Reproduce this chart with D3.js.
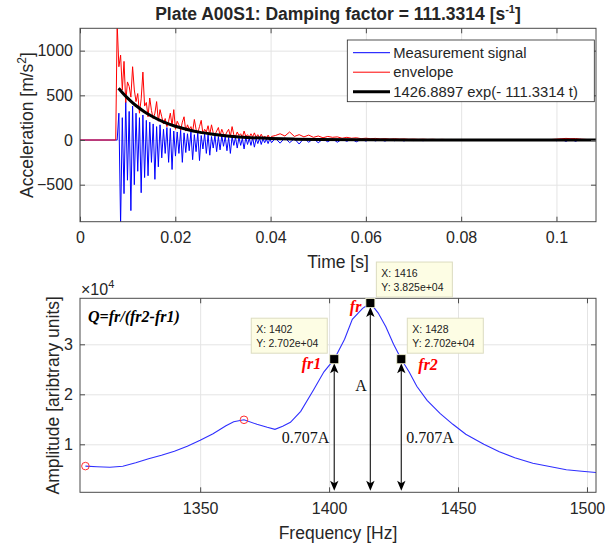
<!DOCTYPE html>
<html>
<head>
<meta charset="utf-8">
<script src="https://cdn.jsdelivr.net/npm/d3@7"></script>
<style>
  body { margin: 0; background: #fff; }
  svg text { font-family: "Liberation Sans", Arial, sans-serif; fill: #262626; }
</style>
</head>
<body>
<div id="chart"></div>
<script>
// ---- time signal (top plot) ----
const timeDomain = [0, 0.1083];
const accDomain = [-914, 1250];
const timeTicks = [0, 0.02, 0.04, 0.06, 0.08, 0.1];
const accTicks = [-500, 0, 500, 1000];

// dense part of the record: first sample time and sampling step [s]
const headStart = 0.0078, headStep = 0.00036;
const blueHead = [0, 300, -950, 250, -600, 430, -450, 320, -790, 380,
  -500, 300, -350, 250, -590, 280, -420, 220, -400, 200,
  -250, 180, -440, 150, -300, 170, -200, 120, -150, 140,
  -250, 130, -330, 100, -180, 90, -150, 110, -250, 80,
  -140, 70, -120, 90, -220, 60, -130, 80, -230, 50,
  -100, 70, -150, 60, -170, 40, -90, 50, -130, 40,
  -110, 50, -70, 40, -120, 30, -150, 40, -60, 30,
  -90, 30, -60, 20, -100, 30, -50, 20, -60, 25,
  -80, 15, -40, 20, -50, 15, -30, 10, -40, 15,
  -30];
const redHead = [1300, 820, 950, 560, 880, 420, 650, 600, 480, 820,
  560, 430, 520, 300, 460, 760, 380, 420, 260, 470,
  330, 240, 300, 430, 210, 340, 260, 180, 240, 150,
  210, 300, 160, 340, 120, 210, 170, 110, 200, 260,
  100, 170, 120, 150, 90, 230, 120, 80, 150, 220,
  70, 120, 90, 160, 60, 170, 80, 60, 100, 140,
  50, 120, 70, 50, 90, 120, 40, 150, 60, 40,
  90, 50, 70, 30, 100, 40, 60, 30, 70, 35,
  80, 30, 60, 25, 65, 25, 45, 20, 55, 20,
  40];
// decayed tail, coarser step
const tailStart = 0.041, tailStep = 0.001;
const blueTail = [20, -35, 25, -30, 15, -45, 20, -25, 15, -30,
  10, -20, 15, -25, 10, -15, 10, -20, 8, -12,
  8, -10, 6, -12, 6, -8, 5, -10, 5, -6,
  4, -8, 4, -5, 3, -6, 3, -4, 3, -5,
  2, -3, 2, -4, 2, -3, 2, -2, 2, -3,
  1, -2, 1, -2, 1, -2, 2, -3, 4, -8,
  10, -15, 12, -14, 8, -6, 3, -2];
const redTail = [50, 70, 45, 90, 40, 60, 35, 55, 30, 45,
  25, 40, 30, 35, 20, 30, 20, 25, 15, 20,
  15, 18, 12, 15, 10, 14, 10, 12, 8, 10,
  7, 9, 6, 8, 5, 7, 5, 6, 4, 6,
  4, 5, 3, 5, 3, 4, 3, 4, 3, 4,
  2, 3, 2, 3, 2, 3, 3, 4, 6, 10,
  14, 18, 15, 16, 10, 7, 4, 3];

// exponential fit
const fitT = [0.0081, 0.009, 0.01, 0.011, 0.012, 0.0135, 0.015, 0.0175, 0.02, 0.0225, 0.025,
  0.0275, 0.03, 0.035, 0.04, 0.045, 0.05, 0.06, 0.07, 0.08, 0.09, 0.1, 0.1083];
const fitA = [579, 524, 469, 419, 375, 317, 269, 203, 154, 117, 88,
  67, 50, 29, 17, 10, 5, 2, 1, 0, 0, 0, 0];

const legendLabels = ['Measurement signal', 'envelope', '1426.8897 exp(- 111.3314 t)'];

// ---- spectrum (bottom plot) ----
const freqDomain = [1303.4, 1503.5];
const ampDomain = [400, 39200];
const freqTicks = [1350, 1400, 1450, 1500];
const ampTicks = [10000, 20000, 30000];

const freq = [1305.5, 1310, 1315, 1320, 1325, 1330, 1335, 1340, 1345, 1350,
  1355, 1360, 1363, 1367, 1372, 1376, 1379, 1382, 1385, 1389,
  1394, 1398, 1402, 1406, 1409, 1413, 1416, 1419, 1422, 1425,
  1428, 1431, 1434, 1438, 1443, 1448, 1453, 1460, 1466, 1472,
  1479, 1486, 1492, 1498, 1503.5];
const amp = [5640, 5500, 5400, 5600, 6300, 7100, 7800, 8600, 9600, 10800,
  12100, 13700, 14500, 14900, 14000, 13400, 13000, 13600, 14400, 16600,
  20900, 24500, 27020, 31000, 35000, 37200, 38250, 36300, 33500, 30000,
  27020, 24500, 21600, 18800, 16200, 14000, 12000, 10000, 8500, 7300,
  6200, 5500, 4900, 4600, 4370];

const circleFreqs = [1305.5, 1367];
const tipFreqs = [1402, 1416, 1428];
const tipNames = ['fr1', 'fr', 'fr2'];
const tipSides = ['left', 'right', 'right'];

// ---- layout ----
const W = 605, H = 546;
const boxTop = { left: 80, right: 596, top: 28.3, bottom: 221.7 };
const boxBot = { left: 80, right: 596, top: 298.3, bottom: 492.3 };

const svg = d3.select('#chart').append('svg')
  .attr('width', W).attr('height', H);

const defs = svg.append('defs');
[['clipTop', boxTop], ['clipBot', boxBot]].forEach(([id, b]) => {
  defs.append('clipPath').attr('id', id).append('rect')
    .attr('x', b.left).attr('y', b.top)
    .attr('width', b.right - b.left).attr('height', b.bottom - b.top);
});

function drawGrid(b, x, y, xTicks, yTicks) {
  const w = b.right - b.left, h = b.bottom - b.top;
  const g = svg.append('g');
  g.append('g').attr('transform', `translate(0,${b.bottom})`)
    .call(d3.axisBottom(x).tickValues(xTicks).tickSize(-h).tickFormat(''))
    .call(s => s.select('.domain').remove())
    .selectAll('line').attr('stroke', '#e4e4e4');
  g.append('g').attr('transform', `translate(${b.left},0)`)
    .call(d3.axisLeft(y).tickValues(yTicks).tickSize(-w).tickFormat(''))
    .call(s => s.select('.domain').remove())
    .selectAll('line').attr('stroke', '#e4e4e4');
  return g;
}

function drawFrame(b, x, y, xTicks, yTicks, xFmt, yFmt) {
  const g = svg.append('g');
  const tick = 5;
  const style = s => {
    s.select('.domain').remove();
    s.selectAll('line').attr('stroke', '#4a4a4a');
    s.selectAll('text').style('font-size', '16px').attr('fill', '#262626');
  };
  g.append('g').attr('transform', `translate(0,${b.bottom})`)
    .call(d3.axisBottom(x).tickValues(xTicks).tickSize(-tick).tickPadding(10).tickFormat(xFmt))
    .call(style);
  g.append('g').attr('transform', `translate(0,${b.top})`)
    .call(d3.axisTop(x).tickValues(xTicks).tickSize(-tick).tickFormat(''))
    .call(style);
  g.append('g').attr('transform', `translate(${b.left},0)`)
    .call(d3.axisLeft(y).tickValues(yTicks).tickSize(-tick).tickPadding(7).tickFormat(yFmt))
    .call(style);
  g.append('g').attr('transform', `translate(${b.right},0)`)
    .call(d3.axisRight(y).tickValues(yTicks).tickSize(-tick).tickFormat(''))
    .call(style);
  g.append('rect')
    .attr('x', b.left).attr('y', b.top)
    .attr('width', b.right - b.left).attr('height', b.bottom - b.top)
    .attr('fill', 'none').attr('stroke', '#4a4a4a').attr('stroke-width', 1);
  g.selectAll('.tick text').attr('font-family', '"Liberation Sans", Arial, sans-serif');
  return g;
}

// ================= top plot =================
const xT = d3.scaleLinear().domain(timeDomain).range([boxTop.left, boxTop.right]);
const yT = d3.scaleLinear().domain(accDomain).range([boxTop.bottom, boxTop.top]);

drawGrid(boxTop, xT, yT, timeTicks, accTicks);

function buildSeries(head, tail) {
  const pts = [[0, 0], [headStart - 0.0003, 0]];
  head.forEach((v, i) => pts.push([headStart + i * headStep, v]));
  tail.forEach((v, i) => pts.push([tailStart + i * tailStep, v]));
  return pts;
}

const lineT = d3.line().x(d => xT(d[0])).y(d => yT(d[1]));
const plotT = svg.append('g').attr('clip-path', 'url(#clipTop)');

plotT.append('path')
  .datum(buildSeries(blueHead, blueTail))
  .attr('d', lineT).attr('fill', 'none')
  .attr('stroke', '#0000ff').attr('stroke-width', 1);

plotT.append('path')
  .datum(buildSeries(redHead, redTail))
  .attr('d', lineT).attr('fill', 'none')
  .attr('stroke', '#ff0000').attr('stroke-width', 1);

plotT.append('path')
  .datum(fitT.map((t, i) => [t, fitA[i]]))
  .attr('d', lineT.curve(d3.curveMonotoneX)).attr('fill', 'none')
  .attr('stroke', '#000').attr('stroke-width', 3);

drawFrame(boxTop, xT, yT, timeTicks, accTicks, d3.format('~g'), d3.format('~g'));

// legend
const leg = svg.append('g');
leg.append('rect')
  .attr('x', 347.3).attr('y', 40).attr('width', 247).attr('height', 61.7)
  .attr('fill', '#fff').attr('stroke', '#262626').attr('stroke-width', 0.8);
const legColors = ['#0000ff', '#ff0000', '#000'];
const legWidths = [1, 1, 3];
legendLabels.forEach((lab, i) => {
  const ly = 52.7 + i * 19.5;
  leg.append('line')
    .attr('x1', 353).attr('x2', 390).attr('y1', ly).attr('y2', ly)
    .attr('stroke', legColors[i]).attr('stroke-width', legWidths[i]);
  leg.append('text')
    .attr('x', 393.3).attr('y', ly).attr('dy', '0.35em')
    .style('font-size', '14.8px').attr('fill', '#000')
    .text(lab);
});

// title
const title = svg.append('text')
  .attr('x', (boxTop.left + boxTop.right) / 2).attr('y', 20)
  .attr('text-anchor', 'middle')
  .style('font-size', '17.5px').style('font-weight', 'bold').attr('fill', '#000');
title.append('tspan').text('Plate A00S1: Damping factor = 111.3314 [s');
title.append('tspan').attr('dy', -7).style('font-size', '11px').text('-1');
title.append('tspan').attr('dy', 7).text(']');

// axis labels
svg.append('text')
  .attr('x', (boxTop.left + boxTop.right) / 2).attr('y', 262).attr('dy', '0.35em')
  .attr('text-anchor', 'middle').style('font-size', '17.5px')
  .text('Time [s]');

const accLab = svg.append('text')
  .attr('transform', `translate(33,${(boxTop.top + boxTop.bottom) / 2}) rotate(-90)`)
  .attr('text-anchor', 'middle').style('font-size', '17.5px');
accLab.append('tspan').text('Acceleration [m/s');
accLab.append('tspan').attr('dy', -7).style('font-size', '12px').text('2');
accLab.append('tspan').attr('dy', 7).text(']');

// ================= bottom plot =================
const xB = d3.scaleLinear().domain(freqDomain).range([boxBot.left, boxBot.right]);
const yB = d3.scaleLinear().domain(ampDomain).range([boxBot.bottom, boxBot.top]);

drawGrid(boxBot, xB, yB, freqTicks, ampTicks);

const spec = freq.map((f, i) => [f, amp[i]]);
const valueAt = f => spec.find(d => d[0] === f)[1];

const plotB = svg.append('g').attr('clip-path', 'url(#clipBot)');
plotB.append('path')
  .datum(spec)
  .attr('d', d3.line().x(d => xB(d[0])).y(d => yB(d[1])))
  .attr('fill', 'none').attr('stroke', '#2f2fff').attr('stroke-width', 1.1);

plotB.selectAll('circle.peak')
  .data(circleFreqs)
  .join('circle')
  .attr('class', 'peak')
  .attr('cx', d => xB(d)).attr('cy', d => yB(valueAt(d)))
  .attr('r', 3.8).attr('fill', 'none')
  .attr('stroke', '#ff3030').attr('stroke-width', 1);

// double arrows from the marked points down to the axis
const arrowHead = 'M0,0 L4.2,10 L0,7.5 L-4.2,10 Z';
tipFreqs.forEach(f => {
  const ax = xB(f);
  const yTop = yB(valueAt(f)) + 4;
  const yBot = boxBot.bottom - 1.5;
  svg.append('line')
    .attr('x1', ax).attr('x2', ax).attr('y1', yTop + 6).attr('y2', yBot - 6)
    .attr('stroke', '#333').attr('stroke-width', 1.3);
  svg.append('path').attr('d', arrowHead)
    .attr('transform', `translate(${ax},${yTop})`).attr('fill', '#000');
  svg.append('path').attr('d', arrowHead)
    .attr('transform', `translate(${ax},${yBot}) rotate(180)`).attr('fill', '#000');
});

drawFrame(boxBot, xB, yB, freqTicks, ampTicks, d3.format('d'), d => d / 10000);

// x10^4 multiplier
const mult = svg.append('text')
  .attr('x', 81).attr('y', 295).style('font-size', '16px');
mult.append('tspan').text('\u00d710');
mult.append('tspan').attr('dy', -7).style('font-size', '11px').text('4');

svg.append('text')
  .attr('x', (boxBot.left + boxBot.right) / 2).attr('y', 533).attr('dy', '0.35em')
  .attr('text-anchor', 'middle').style('font-size', '17.5px')
  .text('Frequency [Hz]');

svg.append('text')
  .attr('transform', `translate(59,${(boxBot.top + boxBot.bottom) / 2}) rotate(-90)`)
  .attr('text-anchor', 'middle').style('font-size', '17.5px')
  .text('Amplitude [aribtrary units]');

// annotation texts
const serif = '"Liberation Serif", "Times New Roman", serif';
svg.append('text')
  .attr('x', 88).attr('y', 322)
  .style('font-family', serif).style('font-size', '16px')
  .style('font-weight', 'bold').style('font-style', 'italic').style('fill', '#000')
  .text('Q=fr/(fr2-fr1)');

const nameOffsets = { fr1: [-13, 10, 'end'], fr: [-9, 9, 'end'], fr2: [17, 11, 'start'] };
tipNames.forEach((n, i) => {
  const f = tipFreqs[i];
  const o = nameOffsets[n];
  svg.append('text')
    .attr('x', xB(f) + o[0]).attr('y', yB(valueAt(f)) + o[1])
    .attr('text-anchor', o[2])
    .style('font-family', serif).style('font-size', '16px')
    .style('font-weight', 'bold').style('font-style', 'italic')
    .style('fill', '#ff0000')
    .text(n);
});

const serifText = (x, y, anchor, txt) => svg.append('text')
  .attr('x', x).attr('y', y).attr('text-anchor', anchor)
  .style('font-family', serif).style('font-size', '16px').style('fill', '#111')
  .text(txt);
serifText(xB(tipFreqs[1]) - 3.5, 391, 'end', 'A');
serifText(xB(tipFreqs[0]) - 5, 443, 'end', '0.707A');
serifText(xB(tipFreqs[2]) + 5, 443, 'start', '0.707A');

// data tips
function expLabel(v) {
  const [m, e] = v.toExponential(3).split('e');
  const sign = e[0] === '-' ? '-' : '+';
  const digits = e.replace(/[+-]/, '').padStart(2, '0');
  return `${m}e${sign}${digits}`;
}
tipFreqs.forEach((f, i) => {
  const mx = xB(f), my = yB(valueAt(f));
  const bw = 76, bh = 35;
  const bx = tipSides[i] === 'left' ? mx - 7 - bw : mx + 6;
  const by = my - 6 - bh;
  const g = svg.append('g');
  g.append('rect')
    .attr('x', bx).attr('y', by).attr('width', bw).attr('height', bh)
    .attr('fill', '#fdfde4').attr('stroke', '#dcdcc0').attr('stroke-width', 1);
  g.append('text').attr('x', bx + 5).attr('y', by + 15)
    .style('font-size', '10.5px').style('fill', '#222').text(`X: ${f}`);
  g.append('text').attr('x', bx + 5).attr('y', by + 29)
    .style('font-size', '10.5px').style('fill', '#222').text(`Y: ${expLabel(valueAt(f))}`);
  svg.append('rect')
    .attr('x', mx - 4.5).attr('y', my - 4.5).attr('width', 9).attr('height', 9)
    .attr('fill', '#000').attr('stroke', '#f4f4d0').attr('stroke-width', 0.8);
});
</script>
</body>
</html>
